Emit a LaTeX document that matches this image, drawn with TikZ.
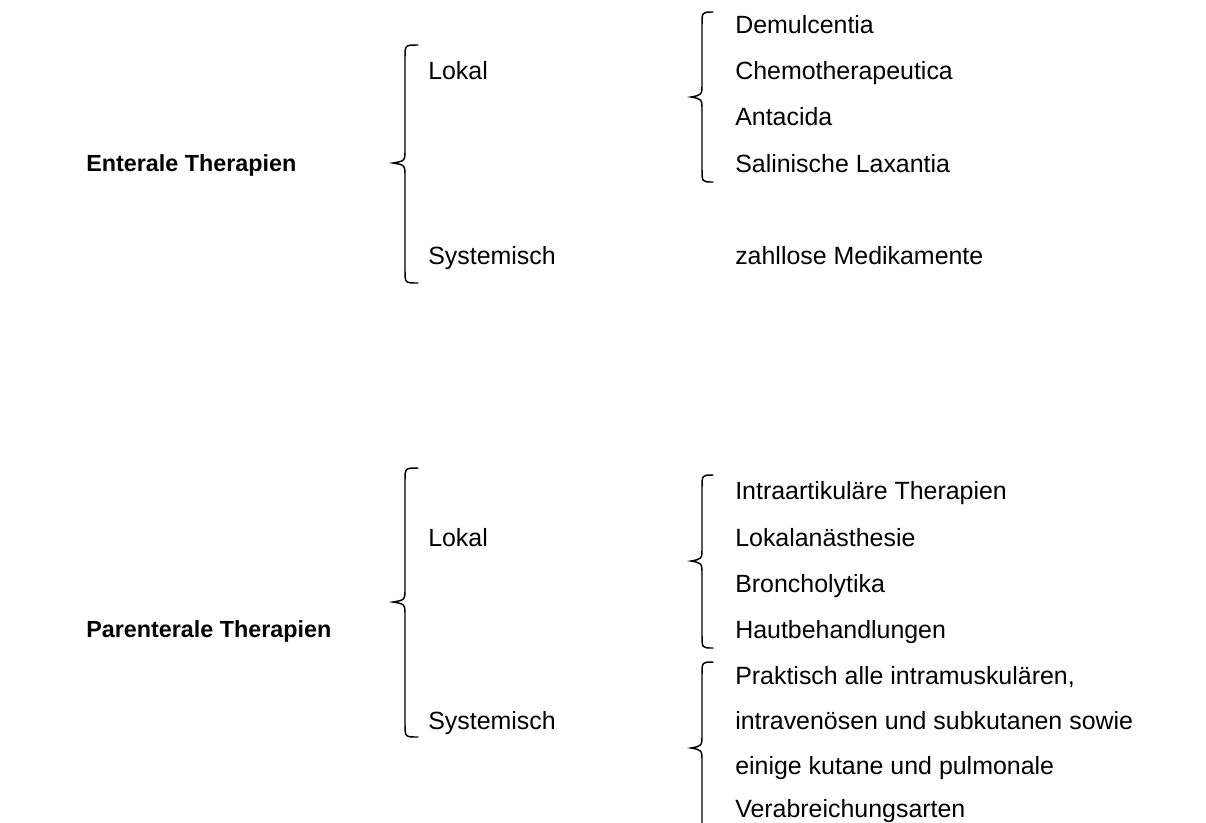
\documentclass[tikz,border=0pt]{standalone}
\usepackage{fontspec}
\setmainfont{Liberation Sans}
\newcommand\mybrace[6]{% xe, xm, xt, ytop, ytip, ybot
  \draw[br] (#1,#4) .. controls (#2,#4) .. (#2,#4+13) -- (#2,#5-14)
    .. controls (#2,#5-2) .. (#3,#5) .. controls (#2,#5+2) .. (#2,#5+14)
    -- (#2,#6-13) .. controls (#2,#6) .. (#1,#6);}
\begin{document}
\begin{tikzpicture}[x=0.75pt,y=-0.75pt,
  txt/.style={anchor=base west, inner sep=0pt, font=\fontsize{18.7}{22}\selectfont},
  head/.style={anchor=base west, inner sep=0pt, font=\fontsize{17.5}{21}\selectfont\bfseries},
  br/.style={line width=1.1pt, line cap=round}]
\useasboundingbox (0,0) rectangle (1206,822);
% Enterale
\node[head] (ent) at (86,171) {Enterale Therapien};
\node[txt] (elok) at (428,79) {Lokal};
\node[txt] (esys) at (428,264) {Systemisch};
\node[txt] (e1) at (735,33) {Demulcentia};
\node[txt] (e2) at (735,79) {Chemotherapeutica};
\node[txt] (e3) at (735,125) {Antacida};
\node[txt] (e4) at (735,172) {Salinische Laxantia};
\node[txt] (e5) at (735,264) {zahllose Medikamente};
\mybrace{418}{405}{393}{45}{163}{283}
\mybrace{713}{702}{691}{12}{97}{182}
% Parenterale
\node[head] (par) at (86,637) {Parenterale Therapien};
\node[txt] (plok) at (428,546) {Lokal};
\node[txt] (psys) at (428,729) {Systemisch};
\node[txt] (p1) at (735,499) {Intraartikuläre Therapien};
\node[txt] (p2) at (735,546) {Lokalanästhesie};
\node[txt] (p3) at (735,592) {Broncholytika};
\node[txt] (p4) at (735,638) {Hautbehandlungen};
\node[txt] (p5) at (735,684) {Praktisch alle intramuskulären,};
\node[txt] (p6) at (735,729) {intravenösen und subkutanen sowie};
\node[txt] (p7) at (735,774) {einige kutane und pulmonale};
\node[txt] (p8) at (735,817) {Verabreichungsarten};
\mybrace{418}{405}{393}{468}{602}{737}
\mybrace{713}{702}{691}{475}{561}{648}
\mybrace{713}{702}{691}{662}{748}{836}
\end{tikzpicture}
\end{document}
